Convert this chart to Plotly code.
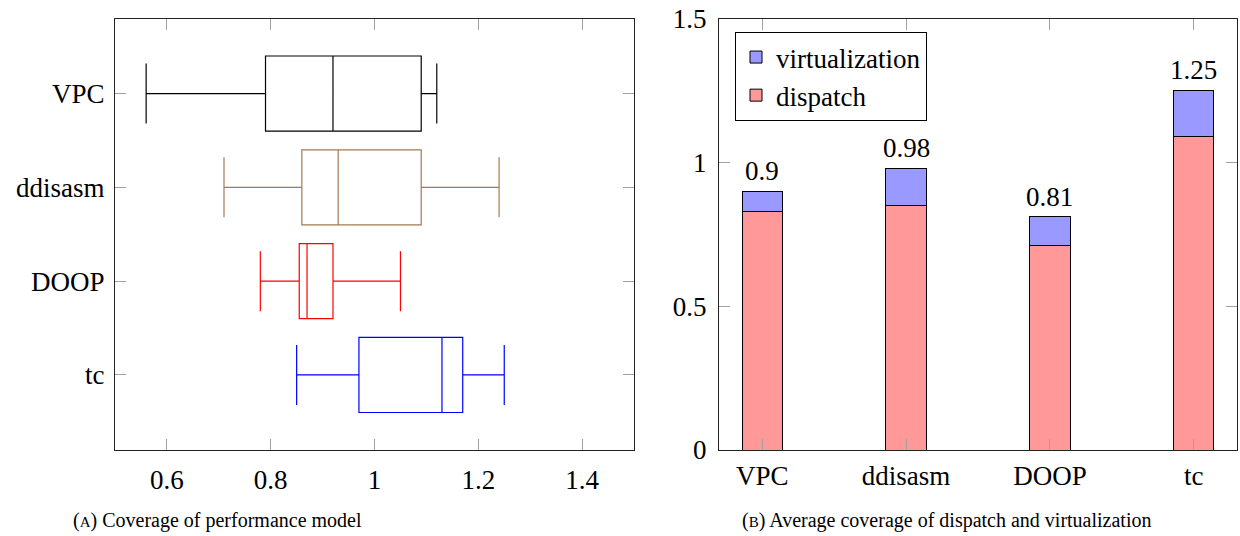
import plotly.graph_objects as go

# ---- Data: left panel (box plot statistics) ----
box_tools = ["VPC", "ddisasm", "DOOP", "tc"]
box_lower = [0.56, 0.71, 0.78, 0.85]
box_q1 = [0.79, 0.86, 0.855, 0.97]
box_median = [0.92, 0.93, 0.87, 1.13]
box_q3 = [1.09, 1.09, 0.92, 1.17]
box_upper = [1.12, 1.24, 1.05, 1.25]
box_colors = ["#000000", "#a47a50", "#ff0000", "#0000ff"]

# ---- Data: right panel (stacked bars) ----
bar_tools = ["VPC", "ddisasm", "DOOP", "tc"]
dispatch = [0.83, 0.85, 0.71, 1.09]
virtualization = [0.07, 0.13, 0.10, 0.16]

x_ticks_left = [0.6, 0.8, 1.0, 1.2, 1.4]
x_tick_text_left = ["0.6", "0.8", "1", "1.2", "1.4"]
y_ticks_right = [0, 0.5, 1, 1.5]
y_tick_text_right = ["0", "0.5", "1", "1.5"]

FONT = "Liberation Serif"
W, H = 1240, 536

fig = go.Figure()

for name, lo, q1, med, q3, hi, col in zip(box_tools, box_lower, box_q1, box_median,
                                           box_q3, box_upper, box_colors):
    fig.add_trace(go.Box(
        y=[name], lowerfence=[lo], q1=[q1], median=[med], q3=[q3], upperfence=[hi],
        orientation="h", xaxis="x", yaxis="y",
        line=dict(color=col, width=1.2), fillcolor="rgba(0,0,0,0)",
        width=0.8, whiskerwidth=0.8, showlegend=False, hoverinfo="skip",
    ))

fig.add_trace(go.Bar(
    x=bar_tools, y=dispatch, name="dispatch", xaxis="x2", yaxis="y2",
    marker=dict(color="#ff9999", line=dict(color="#000000", width=1)), width=0.28,
))
fig.add_trace(go.Bar(
    x=bar_tools, y=virtualization, name="virtualization", xaxis="x2", yaxis="y2",
    marker=dict(color="#9999ff", line=dict(color="#000000", width=1)), width=0.28,
))

totals = [round(d + v, 2) for d, v in zip(dispatch, virtualization)]
for xc, t in zip(bar_tools, totals):
    fig.add_annotation(
        x=xc, y=t, xref="x2", yref="y2", text=f"{t:g}", showarrow=False,
        xanchor="center", yanchor="bottom", yshift=3,
        font=dict(family=FONT, size=27, color="#000"),
    )

y_top = 1 - 18.5 / H
y_bot = 1 - 450 / H

axis_common = dict(
    showline=True, linecolor="#222", linewidth=1, mirror="allticks",
    ticks="inside", ticklen=11, tickcolor="#a0a0a0", tickwidth=1,
    showgrid=False, zeroline=False, automargin=False,
    tickfont=dict(family=FONT, size=27, color="#000"),
)

fig.update_layout(
    width=W, height=H, margin=dict(l=0, r=0, t=0, b=0, autoexpand=False),
    paper_bgcolor="white", plot_bgcolor="white",
    barmode="stack", boxmode="overlay",
    xaxis=dict(domain=[115 / W, 634 / W], range=[0.5, 1.5],
               tickvals=x_ticks_left, ticktext=x_tick_text_left,
               ticklabelstandoff=6, anchor="y", **axis_common),
    yaxis=dict(domain=[y_bot, y_top], type="category",
               categoryorder="array", categoryarray=box_tools[::-1],
               range=[-0.8, 3.8], anchor="x", ticklabelstandoff=4, **axis_common),
    xaxis2=dict(domain=[719 / W, 1237 / W], type="category",
                categoryorder="array", categoryarray=bar_tools,
                range=[-0.3, 3.3], anchor="y2", ticklabelstandoff=2, **axis_common),
    yaxis2=dict(domain=[y_bot, y_top], range=[0, 1.5],
                tickvals=y_ticks_right, ticktext=y_tick_text_right,
                anchor="x2", ticklabelstandoff=6, **axis_common),
    legend=dict(
        x=735 / W, y=1 - 32 / H, xanchor="left", yanchor="top",
        bgcolor="white", bordercolor="#000", borderwidth=1,
        font=dict(family=FONT, size=27, color="#000"),
        traceorder="reversed", itemwidth=30, tracegroupgap=0,
    ),
    showlegend=True,
    font=dict(family=FONT, color="#000"),
)

fig.add_annotation(
    x=217 / W, y=1 - 520 / H, xref="paper", yref="paper", showarrow=False,
    text="(<span style='font-size:15px'>A</span>) Coverage of performance model",
    font=dict(family=FONT, size=20, color="#000"), xanchor="center", yanchor="middle",
)
fig.add_annotation(
    x=946 / W, y=1 - 520 / H, xref="paper", yref="paper", showarrow=False,
    text="(<span style='font-size:15px'>B</span>) Average coverage of dispatch and virtualization",
    font=dict(family=FONT, size=20, color="#000"), xanchor="center", yanchor="middle",
)

fig.write_html("out.html")
